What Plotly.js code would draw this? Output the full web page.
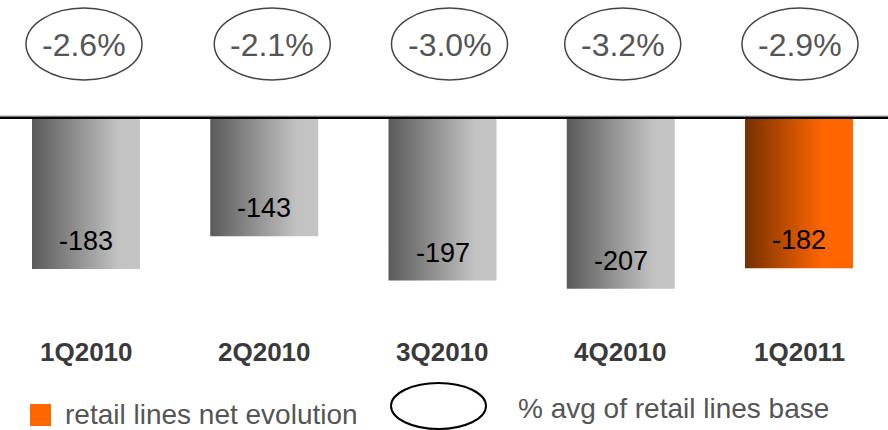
<!DOCTYPE html>
<html>
<head>
<meta charset="utf-8">
<script src="https://cdn.plot.ly/plotly-3.0.1.min.js"></script>
<style>
  html, body { margin: 0; padding: 0; background: #ffffff; }
  #chart { width: 888px; height: 430px; }
</style>
</head>
<body>
<div id="chart"></div>
<script>
// ---- data ----
const categories = ['1Q2010', '2Q2010', '3Q2010', '4Q2010', '1Q2011'];
const netEvolution = [-183, -143, -197, -207, -182];
const pctAvgBase = [-2.6, -2.1, -3.0, -3.2, -2.9];
const legendLabels = ['retail lines net evolution', '% avg of retail lines base'];

// ---- geometry / style ----
const W = 888, H = 430;
const pxPerCat = 178.25;
const firstCenterPx = 86;
const baselinePx = 119;
const pxPerUnit = 0.82;
const barW = 108 / pxPerCat;
const ellW = 116 / pxPerCat;
const ellShiftPx = [-2, 8, 7, 2, 1];   // small horizontal nudges of the ellipses

const xRange = [-firstCenterPx / pxPerCat, (W - firstCenterPx) / pxPerCat];
const yRange = [-(H - baselinePx) / pxPerUnit, baselinePx / pxPerUnit];
const py = p => 1 - p / H;          // pixel-from-top -> paper y
const px = p => p / W;              // pixel-from-left -> paper x

const grayScale = [[0, '#5a5a5a'], [0.8, '#c2c2c2'], [1, '#c4c4c4']];
const orangeScale = [[0, '#763000'], [0.72, '#ff6600'], [1, '#ff6600']];
const font = 'Liberation Sans, Arial, Helvetica, sans-serif';

const traces = categories.map((c, i) => {
  const v = netEvolution[i];
  const last = i === categories.length - 1;
  return {
    type: 'scatter',
    mode: 'lines',
    x: [i - barW / 2, i + barW / 2, i + barW / 2, i - barW / 2, i - barW / 2],
    y: [0, 0, v, v, 0],
    fill: 'toself',
    fillcolor: last ? '#ff6600' : '#999999',
    fillgradient: { type: 'horizontal', colorscale: last ? orangeScale : grayScale },
    line: { width: 0, color: 'rgba(0,0,0,0)' },
    hoverinfo: 'skip',
    showlegend: false,
    name: c
  };
});

const annotations = [];
const shapes = [];

categories.forEach((c, i) => {
  const ex = i + ellShiftPx[i] / pxPerCat;
  // value label inside bar
  annotations.push({
    x: i, y: netEvolution[i], xref: 'x', yref: 'y',
    text: String(netEvolution[i]), showarrow: false,
    yanchor: 'middle', yshift: 28,
    font: { family: font, size: 27, color: '#000000' }
  });
  // category label
  annotations.push({
    x: i, y: py(352), xref: 'x', yref: 'paper',
    text: '<b>' + c + '</b>', showarrow: false, yanchor: 'middle',
    font: { family: font, size: 26, color: '#3a3a3a' }
  });
  // percentage in ellipse
  annotations.push({
    x: ex, y: py(45), xref: 'x', yref: 'paper',
    text: pctAvgBase[i].toFixed(1) + '%', showarrow: false, yanchor: 'middle',
    font: { family: font, size: 32, color: '#555555' }
  });
  shapes.push({
    type: 'circle', xref: 'x', yref: 'paper',
    x0: ex - ellW / 2, x1: ex + ellW / 2, y0: py(80), y1: py(8),
    line: { color: '#444444', width: 1.5 }
  });
});

// baseline
shapes.push({ type: 'line', xref: 'paper', yref: 'paper', x0: 0, x1: 1, y0: py(115.7), y1: py(115.7),
  line: { color: '#c8c8c8', width: 1 } });
shapes.push({ type: 'line', xref: 'paper', yref: 'paper', x0: 0, x1: 1, y0: py(117.8), y1: py(117.8),
  line: { color: '#000000', width: 2.5 } });

// legend
shapes.push({ type: 'rect', xref: 'paper', yref: 'paper', x0: px(30), x1: px(51), y0: py(426), y1: py(404),
  fillcolor: '#ff6600', line: { width: 0 } });
annotations.push({ x: px(63), y: py(414), xref: 'paper', yref: 'paper', xanchor: 'left', yanchor: 'middle',
  text: legendLabels[0], showarrow: false, font: { family: font, size: 28, color: '#555555' } });
shapes.push({ type: 'circle', xref: 'paper', yref: 'paper', x0: px(391), x1: px(486), y0: py(429), y1: py(383),
  line: { color: '#000000', width: 2 } });
annotations.push({ x: px(516), y: py(408), xref: 'paper', yref: 'paper', xanchor: 'left', yanchor: 'middle',
  text: legendLabels[1], showarrow: false, font: { family: font, size: 28, color: '#555555' } });

const layout = {
  width: W, height: H,
  margin: { l: 0, r: 0, t: 0, b: 0, pad: 0 },
  paper_bgcolor: '#ffffff', plot_bgcolor: '#ffffff',
  showlegend: false,
  xaxis: { range: xRange, visible: false, fixedrange: true },
  yaxis: { range: yRange, visible: false, fixedrange: true },
  shapes: shapes,
  annotations: annotations
};

Plotly.newPlot('chart', traces, layout, { staticPlot: true, displayModeBar: false });
</script>
</body>
</html>
